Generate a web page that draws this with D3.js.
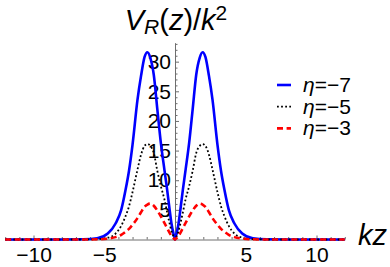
<!DOCTYPE html>
<html>
<head>
<meta charset="utf-8">
<script src="https://cdn.jsdelivr.net/npm/d3@7"></script>
<style>
  body { margin: 0; background: #fff; }
  svg { display: block; font-family: 'Liberation Sans', Arial, sans-serif; }
</style>
</head>
<body>
<svg id="chart" width="390" height="267"></svg>
<script>
// kz sample points
var zValues = [-12, -8, -6.5, -5.5, -4.75, -4.2, -3.8, -3.5, -3.25, -3.0, -2.65, -2.4, -2.15, -1.95, -1.75, -1.5, -1.25, -1.0, -0.75, -0.55, -0.4, -0.25, -0.1,
               0,
               0.1, 0.25, 0.4, 0.55, 0.75, 1.0, 1.25, 1.5, 1.75, 1.95, 2.15, 2.4, 2.65, 3.0, 3.25, 3.5, 3.8, 4.2, 4.75, 5.5, 6.5, 8, 12];

var etaM7 = [0, 0, 0.03, 0.2, 1.0, 2.7, 5.0, 8.3, 11.6, 16.0, 23.6, 27.6, 30.8, 31.6, 30.7, 27.8, 22.0, 16.3, 11.8, 8.3, 5.4, 2.7, 0.9,
             0,
             0.9, 2.7, 5.4, 8.3, 11.8, 16.3, 22.0, 27.8, 30.7, 31.6, 30.8, 27.6, 23.6, 16.0, 11.6, 8.3, 5.0, 2.7, 1.0, 0.2, 0.03, 0, 0];

var etaM5 = [0, 0, 0, 0.05, 0.3, 1.0, 2.3, 3.9, 5.6, 8.0, 11.8, 14.3, 15.8, 16.1, 15.8, 14.6, 11.6, 9.0, 6.8, 4.5, 2.9, 1.4, 0.5,
             0,
             0.5, 1.4, 2.9, 4.5, 6.8, 9.0, 11.6, 14.6, 15.8, 16.1, 15.8, 14.3, 11.8, 8.0, 5.6, 3.9, 2.3, 1.0, 0.3, 0.05, 0, 0, 0];

var etaM3 = [0, 0, 0, 0.03, 0.15, 0.4, 0.8, 1.3, 1.8, 2.5, 3.6, 4.6, 5.5, 5.9, 6.05, 5.7, 4.9, 3.9, 2.8, 1.9, 1.2, 0.6, 0.2,
             0,
             0.2, 0.6, 1.2, 1.9, 2.8, 3.9, 4.9, 5.7, 6.05, 5.9, 5.5, 4.6, 3.6, 2.5, 1.8, 1.3, 0.8, 0.4, 0.15, 0.03, 0, 0, 0];

var seriesNames = ['η=−7', 'η=−5', 'η=−3'];
var xTicks = [-10, -5, 5, 10],
    yTicks = [5, 10, 15, 20, 25, 30];

var svg = d3.select('#chart'),
    axisColor = '#6e6e6e';

var x = d3.scaleLinear().domain([-12, 12]).range([5.2, 344.8]);
var y = d3.scaleLinear().domain([0, 33.2]).range([239.5, 42.7]);

var styles = [
  { color: '#0000ff', width: 2.6, dash: null },
  { color: '#000000', width: 1.8, dash: '1.8,2.3' },
  { color: '#ff0000', width: 2.6, dash: '6,3.6' }
];

var series = [etaM7, etaM5, etaM3].map(function(vals, i) {
  return { name: seriesNames[i], style: styles[i], points: zValues.map(function(z, j) { return [z, vals[j]]; }) };
});

// Axes (Mathematica style: ticks point inward, axes cross at origin)
var xMinor = d3.range(-12, 13).filter(function(d) { return d % 5 !== 0; });
var yMinor = d3.range(1, 34).filter(function(d) { return d % 5 !== 0; });

var gx = svg.append('g').attr('transform', 'translate(0,' + y(0) + ')');
gx.call(d3.axisBottom(x).tickValues(xTicks).tickSize(-4).tickSizeOuter(0).tickPadding(8)
          .tickFormat(function(d) { return d < 0 ? '−' + Math.abs(d) : d; }));
gx.append('g').call(d3.axisBottom(x).tickValues(xMinor).tickSize(-2.5).tickSizeOuter(0).tickFormat(''))
  .select('.domain').remove();

var gy = svg.append('g').attr('transform', 'translate(' + x(0) + ',0)');
gy.call(d3.axisLeft(y).tickValues(yTicks).tickSize(-4).tickSizeOuter(0).tickPadding(4));
gy.append('g').call(d3.axisLeft(y).tickValues(yMinor).tickSize(-2.5).tickSizeOuter(0).tickFormat(''))
  .select('.domain').remove();

svg.selectAll('.domain, .tick line').attr('stroke', axisColor).attr('stroke-width', 1);
svg.selectAll('.tick text').attr('fill', '#000').attr('font-size', 21)
   .attr('font-family', "'Liberation Sans', Arial, sans-serif");

// Curves
var line = d3.line()
             .x(function(d) { return x(d[0]); })
             .y(function(d) { return y(d[1]); })
             .curve(d3.curveMonotoneX);

svg.append('g').selectAll('path')
   .data(series)
   .enter().append('path')
     .attr('d', function(d) { return line(d.points); })
     .attr('fill', 'none')
     .attr('stroke', function(d) { return d.style.color; })
     .attr('stroke-width', function(d) { return d.style.width; })
     .attr('stroke-dasharray', function(d) { return d.style.dash; })
     .attr('stroke-linejoin', 'round');

// Axis labels
var title = svg.append('text')
               .attr('x', x(0) + 1)
               .attr('y', 30)
               .attr('text-anchor', 'middle')
               .attr('font-size', 29);
title.append('tspan').attr('font-style', 'italic').text('V');
title.append('tspan').attr('font-style', 'italic').attr('font-size', 21).attr('dy', 4).text('R');
title.append('tspan').attr('dy', -4).text('(');
title.append('tspan').attr('font-style', 'italic').text('z');
title.append('tspan').text(')/');
title.append('tspan').attr('font-style', 'italic').text('k');
title.append('tspan').attr('font-size', 21).attr('dy', -10).text('2');

svg.append('text')
   .attr('x', 358)
   .attr('y', 245)
   .attr('font-size', 29)
   .attr('font-style', 'italic')
   .text('kz');

// Legend
var legend = svg.append('g').selectAll('g')
                .data(series)
                .enter().append('g')
                  .attr('transform', function(d, i) { return 'translate(277,' + (85 + i * 21.7) + ')'; });

legend.append('line')
      .attr('x1', 0).attr('x2', 14)
      .attr('stroke', function(d) { return d.style.color; })
      .attr('stroke-width', function(d) { return d.style.width; })
      .attr('stroke-dasharray', function(d) { return d.style.dash; });

var legendText = legend.append('text')
                       .attr('x', 26)
                       .attr('y', 7)
                       .attr('font-size', 21);
legendText.append('tspan').attr('font-style', 'italic').text(function(d) { return d.name.charAt(0); });
legendText.append('tspan').text(function(d) { return d.name.slice(1); });
</script>
</body>
</html>
